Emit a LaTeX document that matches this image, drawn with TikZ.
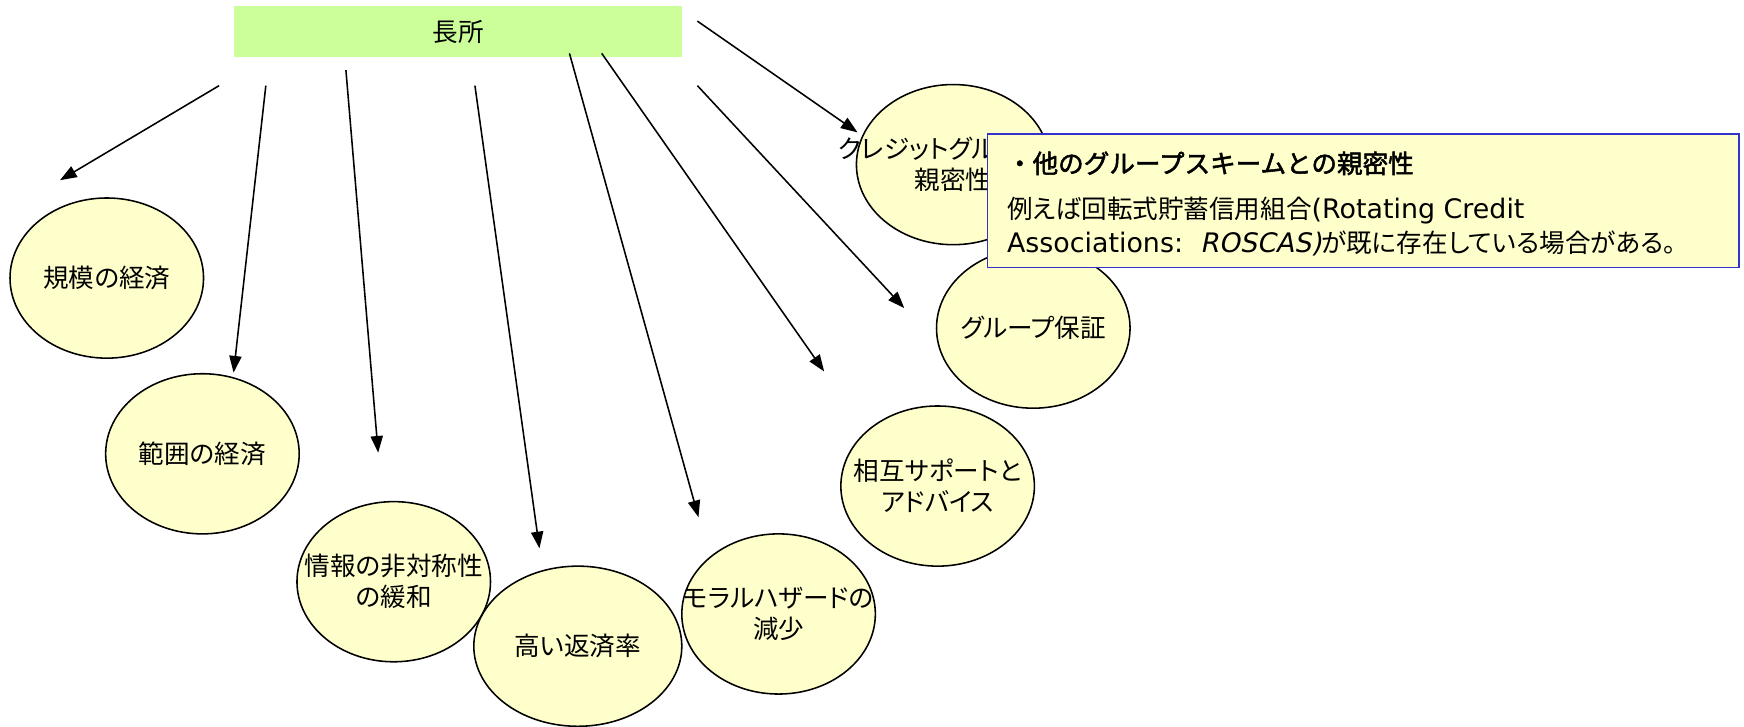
\documentclass[tikz,border=0pt]{standalone}
\usepackage{fontspec}
\setmainfont{Noto Sans CJK JP}[RawFeature=+palt]
\newfontfamily\boldjp{Noto Sans CJK JP}[FakeBold=2]
\newfontfamily\latn{DejaVu Sans}[Scale=1.05]
\newfontfamily\latnit{DejaVu Sans}[Scale=1.05,FakeSlant=0.2]
\usetikzlibrary{shapes.geometric,arrows.meta}
\definecolor{ovalfill}{RGB}{255,255,204}
\definecolor{headfill}{RGB}{204,255,153}
\definecolor{callblue}{RGB}{51,51,204}
\begin{document}
\begin{tikzpicture}[x=0.5pt,y=-0.5pt,
  oval/.style={ellipse,draw=black,line width=0.7pt,fill=ovalfill,minimum width=87pt,minimum height=72pt,inner sep=0pt},
  ovaltext/.style={align=center,font=\fontsize{11.5}{14}\selectfont,inner sep=0pt},
  conn/.style={line width=0.7pt,-{Triangle[length=7.5pt,width=5.5pt]}}]
\useasboundingbox (0,0) rectangle (1568,653);
% header
\node[fill=headfill,minimum width=201.5pt,minimum height=23pt,inner sep=0pt,anchor=north west,
      font=\fontsize{11.5}{14}\selectfont] (head) at (210,5) {長所};
% ovals
\node[oval] (o1) at (96,250) {};
\node[ovaltext] (t1) at (o1) {規模の経済};
\node[oval] (o2) at (182,408) {};
\node[ovaltext] (t2) at (o2) {範囲の経済};
\node[oval] (o3) at (354,523) {};
\node[ovaltext] (t3) at (o3) {情報の非対称性\\の緩和};
\node[oval,minimum width=93.5pt] (o4) at (519.5,581) {};
\node[ovaltext] (t4) at (o4) {高い返済率};
\node[oval] (o5) at (700,552) {};
\node[ovaltext] (t5) at (o5) {モラルハザードの\\減少};
\node[oval] (o6) at (843,437) {};
\node[ovaltext] (t6) at (o6) {相互サポートと\\アドバイス};
\node[oval] (o7) at (929,295) {};
\node[ovaltext] (t7) at (o7) {グループ保証};
\node[oval] (o8) at (857,148) {};
\node[ovaltext] (t8) at (o8) {クレジットグループの\\親密性};
% arrow end points
\coordinate (s1) at (197,77);  \coordinate (e1) at (54,162);
\coordinate (s2) at (239,77);  \coordinate (e2) at (210,335);
\coordinate (s3) at (311,63);  \coordinate (e3) at (340,407);
\coordinate (s4) at (427,77);  \coordinate (e4) at (485,493);
\coordinate (s5) at (512,48);  \coordinate (e5) at (628,465);
\coordinate (s6) at (541,48);  \coordinate (e6) at (741,334);
\coordinate (s7) at (627,77);  \coordinate (e7) at (813,277);
\coordinate (s8) at (627,19);  \coordinate (e8) at (771,119);
\foreach \i in {1,...,8} \draw[conn] (s\i) -- (e\i);
% callout
\node[draw=callblue,line width=0.6pt,fill=ovalfill,minimum width=338pt,minimum height=60pt,
      inner sep=0pt,anchor=north west] (cb) at (887,120) {};
\node[align=left,anchor=west,inner sep=0pt,font=\fontsize{11.5}{15}\selectfont] (cbt) at (905,183)
  {{\boldjp ・他のグループスキームとの親密性}\\[5.5pt]
   例えば回転式貯蓄信用組合{\latn(Rotating Credit}\\
   {\latn Associations:\ \ }{\latnit ROSCAS)}が既に存在している場合がある。};
\end{tikzpicture}
\end{document}
